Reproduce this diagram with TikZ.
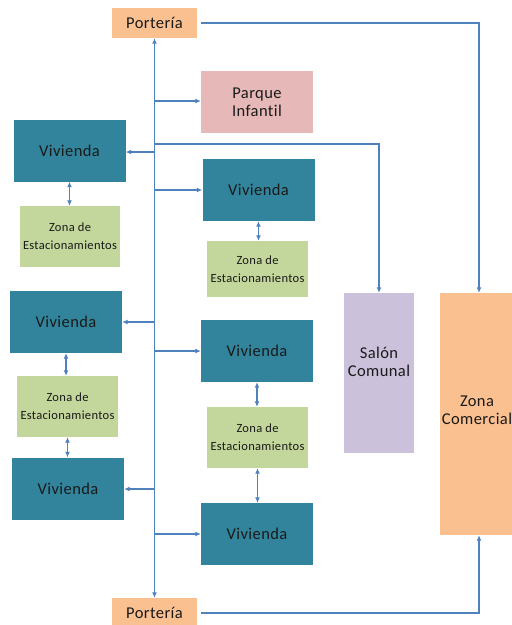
\documentclass[tikz,border=0pt]{standalone}
\usepackage{fontspec}
\setmainfont{Carlito}[Ligatures=NoCommon,LetterSpace=2.5]
\usetikzlibrary{arrows.meta}
\definecolor{viv}{HTML}{31849B}
\definecolor{zon}{HTML}{C3D69B}
\definecolor{por}{HTML}{FAC090}
\definecolor{par}{HTML}{E6B9B8}
\definecolor{sal}{HTML}{CCC1DA}
\definecolor{lin}{HTML}{4F81BD}
\definecolor{txt}{HTML}{1A1A1A}
\tikzset{
  box/.style={inner sep=0pt, align=center, text=txt, font=\fontsize{16.5}{18}\selectfont},
  smallbox/.style={box, fill=zon, font=\fontsize{12.5}{18}\selectfont},
  vivbox/.style={box, fill=viv, minimum width=112pt, minimum height=62pt},
  conn/.style={draw=lin, line width=1.2pt, -{Latex[length=5.5pt,width=5pt]}},
  dconn/.style={draw=lin, line width=1.2pt, {Latex[length=5.5pt,width=5pt]}-{Latex[length=5.5pt,width=5pt]}},
}
\begin{document}
\begin{tikzpicture}[x=1pt,y=-1pt]
\useasboundingbox (0,0) rectangle (512,625);
% boxes
\node[box, fill=por, minimum width=85pt, minimum height=30pt] (porTop) at (154.5,23) {Portería};
\node[box, fill=por, minimum width=85pt, minimum height=30pt] (porBot) at (154.5,613) {Portería};
\node[box, fill=par, minimum width=112pt, minimum height=62pt] (parque) at (257,102) {Parque\\Infantil};
\node[vivbox] (viv1) at (69.5,150.5) {Vivienda};
\node[smallbox, minimum width=100pt, minimum height=61pt] (zona1) at (70,236.5) {Zona de\\Estacionamientos};
\node[vivbox] (viv2) at (258.5,190) {Vivienda};
\node[smallbox, minimum width=101pt, minimum height=56pt] (zona2) at (257.5,269) {Zona de\\Estacionamientos};
\node[vivbox] (viv3) at (66,322) {Vivienda};
\node[smallbox, minimum width=101pt, minimum height=61pt] (zona3) at (67.5,406.5) {Zona de\\Estacionamientos};
\node[vivbox] (viv4) at (68,488.5) {Vivienda};
\node[vivbox] (viv5) at (257,351) {Vivienda};
\node[smallbox, minimum width=101pt, minimum height=61pt] (zona5) at (257.5,437.5) {Zona de\\Estacionamientos};
\node[vivbox] (viv6) at (257,534) {Vivienda};
\node[box, fill=sal, minimum width=70pt, minimum height=160pt, text depth=22pt] (salon) at (379,373) {Salón\\Comunal};
\node[box, fill=por, minimum width=74pt, minimum height=242pt, text depth=8pt] (comercial) at (477,414) {Zona\\Comercial};
% trunk
\draw[dconn, line width=1.7pt] (porTop.south) -- (porBot.north);
% branch points
\coordinate (bPar) at (154.5,101);
\coordinate (bSal) at (154.5,144);
\coordinate (bV1) at (154.5,152);
\coordinate (bV2) at (154.5,190);
\coordinate (bV3) at (154.5,322);
\coordinate (bV5) at (154.5,351);
\coordinate (bV4) at (154.5,489);
\coordinate (bV6) at (154.5,534);
\draw[conn] (bPar) -- (bPar -| parque.west);
\draw[conn] (bSal) -| (salon.north);
\draw[conn] (bV1) -- (bV1 -| viv1.east);
\draw[conn] (bV2) -- (bV2 -| viv2.west);
\draw[conn] (bV3) -- (bV3 -| viv3.east);
\draw[conn] (bV5) -- (bV5 -| viv5.west);
\draw[conn] (bV4) -- (bV4 -| viv4.east);
\draw[conn] (bV6) -- (bV6 -| viv6.west);
% portería to comercial
\draw[conn] ([xshift=4pt]porTop.east) -| ([xshift=2pt]comercial.north);
\draw[conn] ([xshift=4pt]porBot.east) -| ([xshift=2pt]comercial.south);
% vivienda <-> zona
\draw[dconn] (viv1.south) -- (viv1.south |- zona1.north);
\draw[dconn] (viv2.south) -- (viv2.south |- zona2.north);
\draw[dconn] (viv3.south) -- (viv3.south |- zona3.north);
\draw[dconn] (zona3.south) -- (zona3.south |- viv4.north);
\draw[dconn] (viv5.south) -- (viv5.south |- zona5.north);
\draw[dconn] (zona5.south) -- (zona5.south |- viv6.north);
\end{tikzpicture}
\end{document}
